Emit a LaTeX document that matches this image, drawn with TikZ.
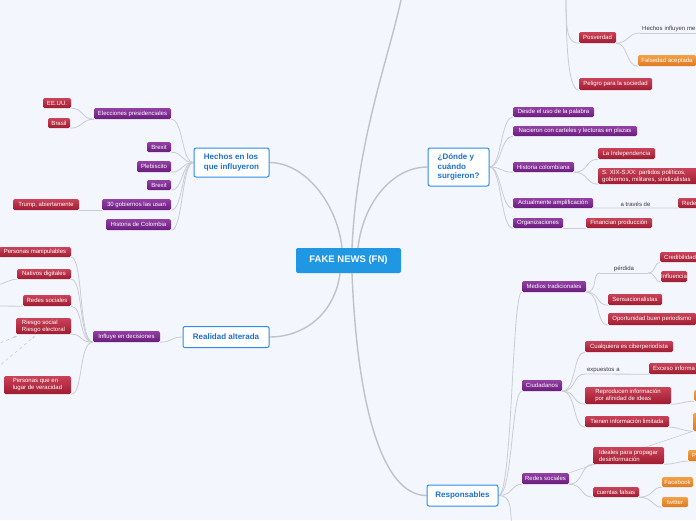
\documentclass[tikz,border=0pt]{standalone}
\usepackage{fontspec}
\setmainfont{Liberation Sans}
\usetikzlibrary{backgrounds,arrows.meta}
\definecolor{bgC}{HTML}{F3F6FD}
\definecolor{purT}{HTML}{9340A6}
\definecolor{purB}{HTML}{6A1C7C}
\definecolor{redT}{HTML}{CB4258}
\definecolor{redB}{HTML}{9E1C31}
\definecolor{oraT}{HTML}{F4A045}
\definecolor{oraB}{HTML}{DE7A20}
\definecolor{topB}{HTML}{2D8CE8}
\definecolor{topT}{HTML}{1C6FD0}
\definecolor{hubC}{HTML}{1F97E2}
\definecolor{lineC}{HTML}{C9CCD3}
\definecolor{lineC2}{HTML}{BFC2C8}
\definecolor{lblC}{HTML}{3A3A3A}
\tikzset{
 box/.style={rounded corners=1.5pt, inner sep=0pt, font=\fontsize{6}{7}\selectfont, text=white, align=center},
 pbox/.style={box, top color=purT, bottom color=purB},
 rbox/.style={box, top color=redT, bottom color=redB},
 obox/.style={box, top color=oraT, bottom color=oraB},
 topic/.style={draw=topB, line width=1pt, fill=white, rounded corners=2pt, text=topT, font=\fontsize{8}{9.5}\selectfont\bfseries, inner sep=0pt},
 hub/.style={fill=hubC, rounded corners=2pt, text=white, font=\fontsize{9.5}{11}\selectfont\bfseries, inner sep=0pt},
 lbl/.style={inner xsep=0pt, inner ysep=1.5pt, font=\fontsize{6}{7}\selectfont, text=lblC},
 con/.style={draw=lineC, line width=0.8pt},
 mcon/.style={draw=lineC2, line width=1.4pt},
 rel/.style={draw=lineC, line width=0.6pt},
 dsh/.style={draw=lineC, line width=0.6pt, dashed, -{Stealth[length=3pt,width=2.5pt]}},
 wh/.style 2 args={minimum width=#1pt, minimum height=#2pt}
}
\begin{document}
\begin{tikzpicture}[x=1pt,y=-1pt]
\useasboundingbox (0,0) rectangle (696,520);

% hub
\node[hub, wh={105}{25}] (fn) at (348.5,260.5) {FAKE NEWS (FN)};

% topics
\node[topic, wh={75}{29}, align=left] (hechos) at (231.5,162.5) {Hechos en los\\que influyeron};
\node[topic, wh={86}{21}] (realidad) at (226,337) {Realidad alterada};
\node[topic, wh={61}{38}, align=left] (donde) at (458.5,167) {¿Dónde y\\cuándo\\surgieron?};
\node[topic, wh={71}{21}] (resp) at (462.5,495.5) {Responsables};

% Hechos branch
\node[pbox, wh={77}{11}] (elec) at (132.5,113.5) {Elecciones presidenciales};
\node[rbox, wh={28}{10}] (eeuu) at (57,103) {EE.UU.};
\node[rbox, wh={22}{10}] (brasil) at (59,123) {Brasil};
\node[pbox, wh={24}{10}] (brexitA) at (159,147) {Brexit};
\node[pbox, wh={34}{11}] (pleb) at (154,166.5) {Plebiscito};
\node[pbox, wh={24}{10}] (brexitB) at (159,185) {Brexit};
\node[pbox, wh={69}{11}] (gob) at (136.5,204.5) {30 gobiernos las usan};
\node[rbox, wh={66}{11}] (trump) at (46,204.5) {Trump, abiertamente};
\node[pbox, wh={65}{11}] (histc) at (138.5,224.5) {Historia de Colombia};

% Realidad branch
\node[pbox, wh={67}{11}] (influye) at (126.5,336.5) {Influye en decisiones};
\node[rbox, wh={72}{10}] (pm) at (35,252) {Personas manipulables};
\node[rbox, wh={54}{10}] (nd) at (44,274) {Nativos digitales};
\node[rbox, wh={48}{11}] (rsA) at (47,300.5) {Redes sociales};
\node[rbox, wh={55}{16}, align=left] (riesgo) at (43.5,326) {Riesgo social\\Riesgo electoral};
\node[rbox, wh={67}{18}, align=left] (pq) at (37.5,385) {Personas que en\\lugar de veracidad};
\coordinate (offND) at (-5,285);
\coordinate (offRS) at (-5,306);
\coordinate (offDa) at (-5,345);
\coordinate (offDb) at (-8,372);

% top right
\coordinate (topA) at (402,-5);
\coordinate (topB) at (566,-5);
\node[rbox, wh={37}{11}] (posv) at (597.5,37.5) {Posverdad};
\node[rbox, wh={73}{12}] (peligro) at (615.5,84) {Peligro para la sociedad};
\node[obox, wh={58}{11}] (falsedad) at (667,60.5) {Falsedad aceptada};
\node[lbl, anchor=south west, text width=60pt, align=left, inner xsep=2pt] (hinf) at (640,33) {Hechos influyen me};

% Donde branch
\node[pbox, wh={81}{10}] (desde) at (553.5,112) {Desde el uso de la palabra};
\node[pbox, wh={124}{10}] (nacieron) at (575,131) {Nacieron con carteles y lecturas en plazas};
\node[pbox, wh={61}{10}] (histcol) at (543.5,167) {Historia colombiana};
\node[rbox, wh={57}{11}] (indep) at (626.5,153.5) {La Independencia};
\node[rbox, anchor=west, minimum height=16pt, text width=94pt, inner xsep=4pt, align=left] (sxix) at (598,176) {S. XIX-S.XX: partidos políticos,\\gobiernos, militares, sindicalistas};
\node[pbox, wh={80}{10}] (actual) at (553,203) {Actualmente amplificación};
\node[lbl, anchor=south, minimum width=85pt] (atraves) at (635.5,208) {a través de};
\node[rbox, anchor=west, minimum height=10pt, text width=20pt, inner xsep=4pt, align=left] (redesA) at (678,203) {Rede};
\node[pbox, wh={50}{10}] (organ) at (538,223) {Organizaciones};
\node[rbox, wh={66}{10}] (financ) at (619,223) {Financian producción};

% Responsables branch: medios
\node[pbox, wh={64}{11}] (medios) at (554,286.5) {Medios tradicionales};
\node[lbl, anchor=south, minimum width=48pt] (perdida) at (624,273) {pérdida};
\node[rbox, anchor=west, minimum height=10pt, text width=32pt, inner xsep=4pt, align=left] (cred) at (660,257) {Credibilidad};
\node[rbox, wh={26}{11}] (infl) at (674,276.5) {Influencia};
\node[rbox, wh={54}{11}] (sens) at (635,299.5) {Sensacionalistas};
\node[rbox, wh={88}{12}] (oport) at (652,319) {Oportunidad buen periodismo};

% ciudadanos
\node[pbox, wh={40}{11}] (ciud) at (542,385.5) {Ciudadanos};
\node[rbox, wh={88}{11}] (cualq) at (629,346.5) {Cualquiera es ciberperiodista};
\node[lbl, anchor=south, text width=60pt, inner xsep=2pt, align=left] (expu) at (617,374) {expuestos a};
\node[rbox, anchor=west, minimum height=11pt, text width=44pt, inner xsep=4pt, align=left] (exceso) at (649,368.5) {Exceso informa};
\node[rbox, wh={86}{17}, align=left] (repro) at (628,395.5) {Reproducen información\\por afinidad de ideas};
\node[rbox, wh={84}{11}] (tienen) at (627,421.5) {Tienen información limitada};
\node[obox, anchor=west, wh={10}{11}] (oraA) at (694,395.5) {};
\node[obox, anchor=west, wh={10}{18}] (oraB) at (693,422) {};

% redes sociales
\node[pbox, wh={47}{11}] (redesB) at (545.5,478.5) {Redes sociales};
\node[rbox, wh={71}{17}, align=left] (ideales) at (628.5,455.5) {Ideales para propagar\\desinformación};
\node[obox, anchor=west, minimum height=11pt, text width=8pt, inner xsep=4pt, align=left] (pe) at (688,455.5) {P};
\node[rbox, wh={46}{10}] (cuentas) at (616,492) {cuentas falsas};
\node[obox, wh={31}{10}] (facebook) at (677.5,482) {Facebook};
\node[obox, wh={26}{10}] (twitter) at (675,502) {twitter};
\coordinate (botR) at (512,530);

\begin{pgfonlayer}{background}
\fill[bgC] (0,0) rectangle (696,520);
% main connectors
\draw[mcon] ([xshift=-6.5pt]fn.north) .. controls +(-5,-45) and +(35,0) .. (hechos.east);
\draw[mcon] ([xshift=3.5pt]fn.north) .. controls +(5,-110) and +(-12,60) .. (topA);
\draw[mcon] ([xshift=9.5pt]fn.north) .. controls +(5,-45) and +(-35,0) .. (donde.west);
\draw[mcon] ([xshift=-8.5pt]fn.south) .. controls +(-5,40) and +(35,0) .. (realidad.east);
\draw[mcon] ([xshift=3.5pt]fn.south) .. controls +(5,130) and +(-45,0) .. (resp.west);
% Hechos
\foreach \c in {elec,brexitA,pleb,brexitB,gob,histc}
  \draw[con] (hechos.west) .. controls +(-12,0) and +(12,0) .. (\c.south east);
\foreach \c in {eeuu,brasil}
  \draw[con] (elec.south west) .. controls +(-12,0) and +(12,0) .. (\c.south east);
\draw[con] (gob.south west) -- (trump.south east);
% Realidad
\draw[con] (realidad.west) .. controls +(-12,0) and +(12,0) .. (influye.south east);
\foreach \c in {pm,nd,rsA,riesgo,pq}
  \draw[con] (influye.south west) .. controls +(-14,0) and +(12,0) .. (\c.south east);
\draw[con] (nd.south west) .. controls +(-8,0) and +(8,0) .. (offND);
\draw[con] (rsA.south west) -- (offRS);
\draw[dsh] (offDa) -- ([xshift=1pt,yshift=-2pt]riesgo.south west);
\draw[dsh] (offDb) -- ([xshift=19pt,yshift=-2pt]riesgo.south west);
% top right
\foreach \c in {posv,peligro}
  \draw[con] (topB) .. controls +(0,35) and +(-12,0) .. (\c.south west);
\draw[con] (posv.south east) .. controls +(12,0) and +(-12,0) .. (hinf.south west);
\draw[con] (hinf.south west) -- (hinf.south east);
\draw[con] (posv.south east) .. controls +(12,0) and +(-12,0) .. (falsedad.south west);
% Donde
\foreach \c in {desde,nacieron,histcol,actual,organ}
  \draw[con] (donde.east) .. controls +(12,0) and +(-12,0) .. (\c.south west);
\foreach \c in {indep,sxix}
  \draw[con] (histcol.south east) .. controls +(14,0) and +(-12,0) .. (\c.south west);
\draw[con] (actual.south east) -- (atraves.south west) -- (atraves.south east) -- (redesA.south west);
\draw[con] (organ.south east) -- (financ.south west);
% Responsables
\foreach \c in {medios,ciud,redesB}
  \draw[con] (resp.east) .. controls +(14,0) and +(-10,0) .. (\c.south west);
\draw[con] (resp.east) .. controls +(14,0) and +(-2,-20) .. (botR);
\draw[con] (medios.south east) .. controls +(12,0) and +(-8,0) .. (perdida.south west);
\draw[con] (perdida.south west) -- (perdida.south east);
\foreach \c in {cred,infl}
  \draw[con] (perdida.south east) .. controls +(8,0) and +(-6,0) .. (\c.south west);
\foreach \c in {sens,oport}
  \draw[con] (medios.south east) .. controls +(14,0) and +(-12,0) .. (\c.south west);
\foreach \c in {cualq,expu,repro,tienen}
  \draw[con] (ciud.south east) .. controls +(14,0) and +(-12,0) .. (\c.south west);
\draw[con] (expu.south west) -- (exceso.south west);
\draw[con] (repro.south east) .. controls +(10,0) and +(-10,0) .. (oraA.south west);
\draw[con] (tienen.south east) .. controls +(10,0) and +(-10,0) .. (oraB.south west);
\draw[rel] (redesB.north east) -- (oraB.south west);
\foreach \c in {ideales,cuentas}
  \draw[con] (redesB.south east) .. controls +(14,0) and +(-12,0) .. (\c.south west);
\draw[con] (ideales.south east) .. controls +(12,0) and +(-10,0) .. (pe.south west);
\foreach \c in {facebook,twitter}
  \draw[con] (cuentas.south east) .. controls +(14,0) and +(-10,0) .. (\c.south west);
\end{pgfonlayer}
\end{tikzpicture}
\end{document}
